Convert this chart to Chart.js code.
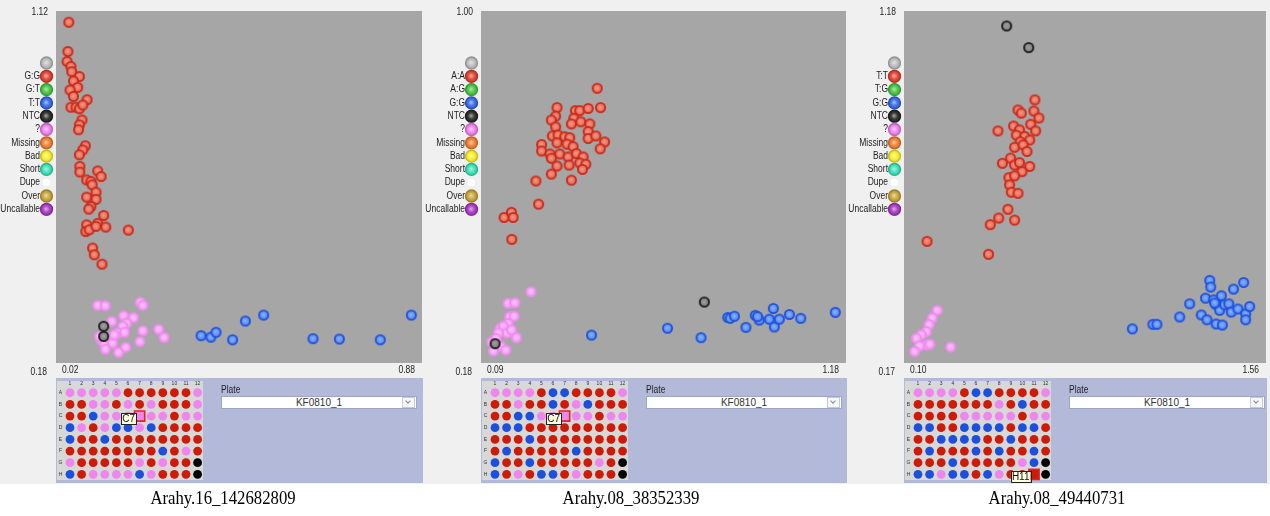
<!DOCTYPE html>
<html>
<head>
<meta charset="utf-8">
<script src="https://cdn.jsdelivr.net/npm/chart.js@4.4.1/dist/chart.umd.min.js"></script>
<style>
body { margin: 0; background: #fff; width: 1270px; height: 516px; overflow: hidden; font-family: "Liberation Sans", Arial, sans-serif; }
#bg { position: absolute; left: 0; top: 0; width: 1270px; height: 484px; background: #f0f0f0; }
canvas { position: absolute; }
.plateLbl { position: absolute; font-size: 10px; color: #222; transform: scaleX(0.85); transform-origin: left; }
.combo { position: absolute; width: 194px; height: 11px; background: #fff; border: 1px solid #9ea6c6; font-size: 10px; line-height: 11px; text-align: center; color: #333; }
.combo .btn { position: absolute; right: 1px; top: 0px; width: 11px; height: 9px; border: 1px solid #c4c9db; background: #f7f7f7; }
.combo .btn:after { content: ''; position: absolute; left: 3px; top: 1px; width: 3px; height: 3px; border-right: 1px solid #888; border-bottom: 1px solid #888; transform: rotate(45deg); }
.caption { position: absolute; top: 487px; font-family: "Liberation Serif", "Times New Roman", serif; font-size: 19px; line-height: 22px; color: #000; white-space: nowrap; transform: translateX(-50%) scaleX(0.88); }
</style>
</head>
<body>
<div id="bg"></div>
<script>
// ---- data ----
const markers = ['Arahy.16_142682809', 'Arahy.08_38352339', 'Arahy.08_49440731'];
const plateName = 'KF0810_1';

const p1Legend = ['', 'G:G', 'G:T', 'T:T', 'NTC', '?', 'Missing', 'Bad', 'Short', 'Dupe', 'Over', 'Uncallable'];
const p2Legend = ['', 'A:A', 'A:G', 'G:G', 'NTC', '?', 'Missing', 'Bad', 'Short', 'Dupe', 'Over', 'Uncallable'];
const p3Legend = ['', 'T:T', 'T:G', 'G:G', 'NTC', '?', 'Missing', 'Bad', 'Short', 'Dupe', 'Over', 'Uncallable'];
const legendColors = ['#b9b9b9', '#e23a2c', '#3fc23a', '#2f62e6', '#222222', '#f07cf0', '#f07a2a', '#f6ee22', '#34e0b4', '#ffffff', '#c4a232', '#a632c4'];

const p1X = [0.02, 0.88], p1Y = [0.18, 1.12];
const p2X = [0.09, 1.18], p2Y = [0.18, 1.00];
const p3X = [0.10, 1.56], p3Y = [0.17, 1.18];

const p1Red = [[0.050,1.090],[0.048,1.012],[0.046,0.985],[0.055,0.972],[0.057,0.958],[0.075,0.945],[0.061,0.933],[0.071,0.916],[0.053,0.909],[0.061,0.892],[0.093,0.883],[0.055,0.863],[0.067,0.863],[0.075,0.859],[0.083,0.869],[0.081,0.829],[0.075,0.816],[0.073,0.803],[0.089,0.760],[0.083,0.749],[0.075,0.736],[0.076,0.705],[0.076,0.690],[0.118,0.693],[0.126,0.678],[0.092,0.669],[0.102,0.665],[0.105,0.656],[0.114,0.636],[0.092,0.623],[0.114,0.617],[0.102,0.598],[0.097,0.591],[0.132,0.574],[0.092,0.549],[0.118,0.553],[0.137,0.543],[0.090,0.531],[0.098,0.536],[0.114,0.545],[0.190,0.535],[0.106,0.487],[0.110,0.469],[0.128,0.444]];
const p1Blue = [[0.361,0.253],[0.384,0.249],[0.396,0.262],[0.435,0.242],[0.465,0.292],[0.508,0.308],[0.624,0.245],[0.686,0.244],[0.782,0.242],[0.855,0.308]];
const p1Pink = [[0.118,0.334],[0.136,0.333],[0.218,0.342],[0.224,0.334],[0.151,0.291],[0.179,0.306],[0.202,0.301],[0.186,0.286],[0.177,0.278],[0.165,0.260],[0.181,0.262],[0.224,0.266],[0.261,0.270],[0.274,0.248],[0.126,0.242],[0.134,0.229],[0.145,0.246],[0.153,0.233],[0.136,0.217],[0.167,0.208],[0.184,0.222],[0.217,0.237],[0.122,0.251],[0.157,0.255]];
const p1Ntc = [[0.132,0.278],[0.132,0.251]];

const p2Red = [[0.437,0.820],[0.447,0.775],[0.317,0.775],[0.372,0.768],[0.385,0.768],[0.410,0.773],[0.313,0.755],[0.300,0.746],[0.367,0.750],[0.360,0.737],[0.388,0.742],[0.313,0.730],[0.415,0.737],[0.410,0.719],[0.303,0.709],[0.320,0.711],[0.340,0.707],[0.355,0.705],[0.410,0.703],[0.433,0.709],[0.459,0.695],[0.271,0.689],[0.317,0.693],[0.347,0.690],[0.365,0.684],[0.446,0.679],[0.271,0.674],[0.296,0.667],[0.325,0.667],[0.350,0.660],[0.375,0.668],[0.395,0.660],[0.300,0.657],[0.385,0.646],[0.403,0.643],[0.353,0.641],[0.317,0.639],[0.393,0.631],[0.300,0.620],[0.254,0.604],[0.360,0.606],[0.262,0.550],[0.159,0.519],[0.181,0.531],[0.186,0.519],[0.182,0.468]];
const p2Blue = [[0.420,0.245],[0.647,0.261],[0.747,0.239],[0.827,0.286],[0.834,0.284],[0.847,0.289],[0.881,0.263],[0.909,0.291],[0.921,0.280],[0.916,0.288],[0.951,0.282],[0.963,0.307],[0.966,0.264],[0.981,0.282],[1.011,0.293],[1.045,0.284],[1.148,0.298]];
const p2Pink = [[0.239,0.346],[0.171,0.319],[0.191,0.320],[0.176,0.288],[0.189,0.289],[0.171,0.272],[0.147,0.260],[0.157,0.266],[0.168,0.250],[0.181,0.257],[0.196,0.239],[0.142,0.250],[0.122,0.229],[0.135,0.237],[0.149,0.219],[0.164,0.210],[0.127,0.208]];
const p2Ntc = [[0.757,0.322],[0.132,0.225]];

const p3Red = [[0.628,0.925],[0.560,0.896],[0.573,0.887],[0.624,0.893],[0.644,0.873],[0.542,0.850],[0.611,0.855],[0.479,0.836],[0.566,0.839],[0.631,0.836],[0.553,0.824],[0.587,0.820],[0.607,0.810],[0.569,0.805],[0.546,0.789],[0.580,0.796],[0.596,0.777],[0.497,0.743],[0.530,0.758],[0.546,0.738],[0.566,0.745],[0.607,0.734],[0.576,0.719],[0.523,0.702],[0.546,0.707],[0.526,0.681],[0.533,0.660],[0.560,0.657],[0.519,0.611],[0.482,0.586],[0.546,0.580],[0.448,0.567],[0.193,0.519],[0.441,0.482]];
const p3Blue = [[1.021,0.268],[1.104,0.281],[1.120,0.281],[1.212,0.302],[1.252,0.340],[1.299,0.308],[1.322,0.294],[1.333,0.407],[1.337,0.388],[1.316,0.356],[1.349,0.351],[1.359,0.337],[1.380,0.363],[1.373,0.321],[1.393,0.337],[1.410,0.340],[1.420,0.316],[1.429,0.382],[1.447,0.325],[1.470,0.401],[1.478,0.311],[1.478,0.294],[1.494,0.332],[1.359,0.282],[1.384,0.279],[1.353,0.342]];
const p3Pink = [[0.234,0.321],[0.214,0.299],[0.201,0.280],[0.190,0.260],[0.170,0.251],[0.150,0.241],[0.193,0.222],[0.163,0.219],[0.143,0.203],[0.288,0.216],[0.204,0.224]];
const p3Ntc = [[0.514,1.137],[0.603,1.075]];

// plate maps, rows A..H, r = first homozygote, b = second homozygote, p = ?, k = NTC
const plate1 = ['ppppprrrrrrp', 'rrpprprprrrp', 'rrbpppppprpp', 'bprpbbpbrrrr', 'brrbrrrrrrrr', 'rrrrrrrrbrpr', 'prrrrrprprrk', 'brppppbprrrk'];
const plate2 = ['pppprbbrrrrp', 'rrprrbrpbrrr', 'rrbbppppprpp', 'bbbrrrrrrrrr', 'rrrbrrrrrrrr', 'rbrrrrrbrrrr', 'brrbrrrrrprk', 'brprbbrprrrk'];
const plate3 = ['pppprbbrrrrp', 'rrrrrrrprbrr', 'rrrrppppprpp', 'bbrrbbbbrbbr', 'rrbbbbrrbrrr', 'rbrrrbrbrrbr', 'rrrbrrrrrpbk', 'bbpbbrbprrrk'];
const plate1Sel = 'C7', plate2Sel = 'C7', plate3Sel = 'H11';

// ---- layout ----
const panelLeft = [0, 425, 848];
const canvasW = [424, 423, 422];
const plotRight = [422, 421, 418];
const captionX = [223, 631, 1057];
const rowNames = 'ABCDEFGH';
const wellColors = { r: '#cc1b06', b: '#1c4fdc', p: '#ee86ee', k: '#050505' };

function shade(hex, f) {
  const n = parseInt(hex.slice(1), 16);
  const ch = [(n >> 16) & 255, (n >> 8) & 255, n & 255].map(v => Math.round(f < 0 ? v * (1 + f) : v + (255 - v) * f));
  return 'rgb(' + ch.join(',') + ')';
}

function squeezeText(ctx, text, x, y, align) {
  ctx.save();
  ctx.translate(x, y);
  ctx.scale(0.85, 1);
  ctx.textAlign = align;
  ctx.fillText(text, 0, 0);
  ctx.restore();
}

function ball(ctx, cx, cy, r, color) {
  ctx.beginPath();
  ctx.arc(cx, cy, r, 0, Math.PI * 2);
  ctx.fillStyle = color;
  ctx.fill();
  const g = ctx.createRadialGradient(cx - 0.5, cy - 0.5, 0, cx, cy, r);
  g.addColorStop(0, 'rgba(255,255,255,0.6)');
  g.addColorStop(0.55, 'rgba(255,255,255,0.1)');
  g.addColorStop(1, 'rgba(0,0,0,0.15)');
  ctx.fillStyle = g;
  ctx.fill();
  ctx.lineWidth = 1.3;
  ctx.strokeStyle = color === '#ffffff' ? '#f4f4f4' : shade(color, -0.2);
  ctx.stroke();
}

function sprite(fill, ring, glow) {
  const c = document.createElement('canvas');
  c.width = 13; c.height = 13;
  const g = c.getContext('2d');
  const grad = g.createRadialGradient(6.1, 6.1, 0, 6.5, 6.5, 4.8);
  grad.addColorStop(0, glow);
  grad.addColorStop(1, fill);
  g.beginPath();
  g.arc(6.5, 6.5, 4.6, 0, Math.PI * 2);
  g.fillStyle = grad;
  g.fill();
  g.lineWidth = 1.8;
  g.strokeStyle = ring;
  g.stroke();
  return c;
}

const redDot = sprite('#e4604c', '#c92a1a', '#f29a88');
const blueDot = sprite('#4c80f0', '#1f52da', '#8db2ff');
const pinkDot = sprite('#f39af3', '#f08cf0', '#fbc4fb');
const ntcDot = sprite('#7a7a7a', '#1c1c1c', '#a0a0a0');

const clusterDecor = {
  id: 'clusterDecor',
  beforeDraw(chart) {
    const { ctx, chartArea: a } = chart;
    ctx.save();
    ctx.fillStyle = '#a6a6a6';
    ctx.fillRect(a.left, a.top, a.right - a.left, a.bottom - a.top);
    ctx.restore();
  },
  afterDraw(chart, args, opts) {
    const { ctx, chartArea: a, scales: { x, y } } = chart;
    ctx.save();
    ctx.fillStyle = '#222';
    ctx.font = '10px "Liberation Sans", Arial, sans-serif';
    ctx.textBaseline = 'middle';
    squeezeText(ctx, y.max.toFixed(2), a.left - 8, a.top + 1, 'right');
    squeezeText(ctx, y.min.toFixed(2), a.left - 9, a.bottom + 9, 'right');
    squeezeText(ctx, x.min.toFixed(2), a.left + 6, a.bottom + 7, 'left');
    squeezeText(ctx, x.max.toFixed(2), a.right - 7, a.bottom + 7, 'right');
    opts.legend.forEach((lab, k) => {
      const cy = 63 + k * 13.3, cx = a.left - 9.5;
      ball(ctx, cx, cy, 6, legendColors[k]);
      if (lab) {
        ctx.fillStyle = '#222';
        squeezeText(ctx, lab, cx - 6.5, cy, 'right');
      }
    });
    ctx.restore();
  }
};

const plateDecor = {
  id: 'plateDecor',
  beforeDraw(chart) {
    const { ctx, scales: { x, y } } = chart;
    ctx.save();
    ctx.fillStyle = '#b3bad9';
    ctx.fillRect(0, 0, chart.width, chart.height);
    ctx.fillStyle = '#d8d8d8';
    ctx.fillRect(1, 3, 146, 99);
    ctx.fillStyle = '#333';
    ctx.font = '5px "Liberation Sans", Arial, sans-serif';
    ctx.textAlign = 'center';
    ctx.textBaseline = 'middle';
    for (let c = 1; c <= 12; c++) ctx.fillText(String(c), x.getPixelForValue(c), 5.5);
    for (let r = 1; r <= 8; r++) ctx.fillText(rowNames[r - 1], 4.5, y.getPixelForValue(r));
    ctx.restore();
  },
  afterDatasetsDraw(chart, args, opts) {
    const { ctx, scales: { x, y } } = chart;
    const col = parseInt(opts.sel.slice(1), 10), row = rowNames.indexOf(opts.sel[0]) + 1;
    const px = x.getPixelForValue(col), py = y.getPixelForValue(row);
    ctx.save();
    ctx.font = '10px "Liberation Sans", Arial, sans-serif';
    const w = ctx.measureText(opts.sel).width + 2;
    const bx = px - 3.5 - w, by = py - 3;
    ctx.fillStyle = '#ffffe1';
    ctx.fillRect(bx, by, w, 11);
    ctx.strokeStyle = '#222';
    ctx.lineWidth = 1;
    ctx.strokeRect(Math.round(bx) + 0.5, Math.round(by) + 0.5, Math.round(w), 11);
    ctx.fillStyle = '#111';
    ctx.textBaseline = 'middle';
    ctx.fillText(opts.sel, bx + 1, by + 6);
    ctx.restore();
  }
};

const toXY = arr => arr.map(p => ({ x: p[0], y: p[1] }));

function addCanvas(left, top, w, h) {
  const c = document.createElement('canvas');
  c.width = w; c.height = h;
  c.style.left = left + 'px';
  c.style.top = top + 'px';
  c.style.width = w + 'px';
  c.style.height = h + 'px';
  document.body.appendChild(c);
  return c;
}

function makePanel(i, xr, yr, legend, red, blue, pink, ntc, plate, sel) {
  const L = panelLeft[i];
  const sc = addCanvas(L, 0, canvasW[i], 380);
  new Chart(sc, {
    type: 'scatter',
    plugins: [clusterDecor],
    data: {
      datasets: [
        { data: toXY(ntc), pointStyle: ntcDot },
        { data: toXY(red), pointStyle: redDot },
        { data: toXY(blue), pointStyle: blueDot },
        { data: toXY(pink), pointStyle: pinkDot }
      ]
    },
    options: {
      responsive: false,
      animation: false,
      events: [],
      layout: { autoPadding: false, padding: { left: 56, top: 11, right: canvasW[i] - plotRight[i], bottom: 17 } },
      elements: { point: { radius: 5 } },
      scales: {
        x: { type: 'linear', min: xr[0], max: xr[1], display: false },
        y: { type: 'linear', min: yr[0], max: yr[1], display: false }
      },
      plugins: {
        legend: { display: false },
        tooltip: { enabled: false },
        clusterDecor: { legend: legend }
      }
    }
  });

  // plate map
  const groups = { r: [], b: [], p: [], k: [] };
  const selRow = rowNames.indexOf(sel[0]), selCol = parseInt(sel.slice(1), 10) - 1;
  let selCode = 'p';
  plate.forEach((rowStr, r) => {
    rowStr.split('').forEach((code, c) => {
      if (r === selRow && c === selCol) { selCode = code; return; }
      groups[code].push({ x: c + 1, y: r + 1 });
    });
  });
  const pw = plotRight[i] - 56 + 1;
  const pc = addCanvas(L + 56, 378, pw, 105);
  new Chart(pc, {
    type: 'scatter',
    plugins: [plateDecor],
    data: {
      datasets: [
        { data: [{ x: selCol + 1, y: selRow + 1 }], pointStyle: 'rect', radius: 7.2,
          backgroundColor: wellColors[selCode], borderColor: '#e8201c', borderWidth: 1.6 },
        ...Object.keys(groups).map(k => ({
          data: groups[k], pointStyle: 'circle', radius: 4.4,
          backgroundColor: wellColors[k], borderWidth: 0
        }))
      ]
    },
    options: {
      responsive: false,
      animation: false,
      events: [],
      clip: false,
      layout: { autoPadding: false, padding: { left: 8.2, top: 8.9, right: pw - 147.4, bottom: 2.8 } },
      scales: {
        x: { type: 'linear', min: 0.5, max: 12.5, display: false },
        y: { type: 'linear', min: 0.5, max: 8.5, reverse: true, display: false }
      },
      plugins: {
        legend: { display: false },
        tooltip: { enabled: false },
        plateDecor: { sel: sel }
      }
    }
  });

  const lbl = document.createElement('div');
  lbl.className = 'plateLbl';
  lbl.style.left = (L + 221) + 'px';
  lbl.style.top = '384px';
  lbl.textContent = 'Plate';
  document.body.appendChild(lbl);

  const combo = document.createElement('div');
  combo.className = 'combo';
  combo.style.left = (L + 221) + 'px';
  combo.style.top = '396px';
  combo.innerHTML = '<span>' + plateName + '</span><div class="btn"></div>';
  document.body.appendChild(combo);

  const cap = document.createElement('div');
  cap.className = 'caption';
  cap.style.left = captionX[i] + 'px';
  cap.textContent = markers[i];
  document.body.appendChild(cap);
}

makePanel(0, p1X, p1Y, p1Legend, p1Red, p1Blue, p1Pink, p1Ntc, plate1, plate1Sel);
makePanel(1, p2X, p2Y, p2Legend, p2Red, p2Blue, p2Pink, p2Ntc, plate2, plate2Sel);
makePanel(2, p3X, p3Y, p3Legend, p3Red, p3Blue, p3Pink, p3Ntc, plate3, plate3Sel);
</script>
</body>
</html>
